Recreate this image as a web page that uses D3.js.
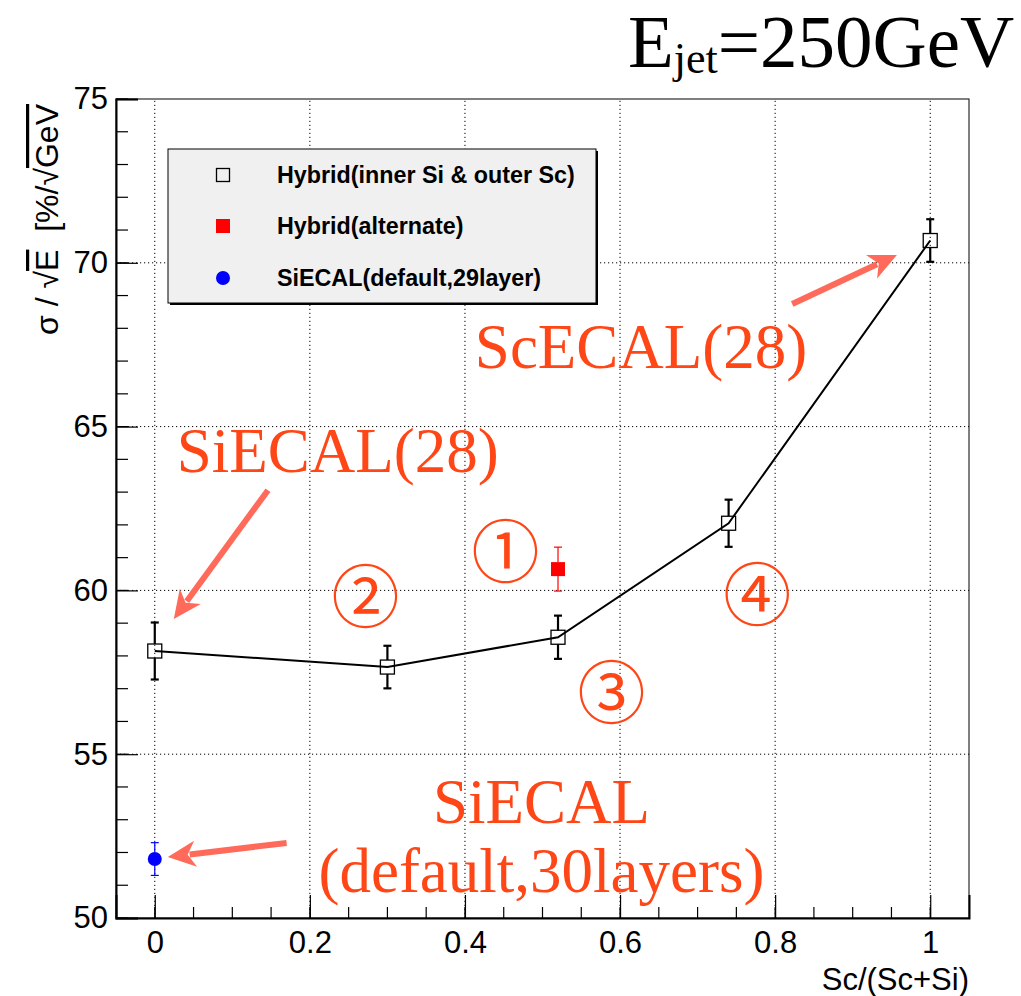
<!DOCTYPE html>
<html>
<head>
<meta charset="utf-8">
<script src="https://cdn.jsdelivr.net/npm/d3@7"></script>
<style>
  body { margin: 0; background: #fff; }
  svg { display: block; }
</style>
</head>
<body>
<script>
// data
var xTicks = [0, 0.2, 0.4, 0.6, 0.8, 1];
var yTicks = [50, 55, 60, 65, 70, 75];

var hybridX = [0, 0.3, 0.52, 0.74, 1];
var hybridY = [58.15, 57.66, 58.57, 62.05, 70.68];
var hybridErr = [0.87, 0.65, 0.66, 0.72, 0.65];

var altX = [0.52];
var altY = [60.65];
var altErr = [0.67];

var siX = [0];
var siY = [51.8];
var siErr = [0.5];

var legendLabels = ["Hybrid(inner Si & outer Sc)", "Hybrid(alternate)", "SiECAL(default,29layer)"];

// annotations (data coords)
var notes = [
  {t: "SiECAL(28)", x: 0.0284, y: 63.61, a: "start"},
  {t: "ScECAL(28)", x: 0.8415, y: 66.79, a: "end"},
  {t: "SiECAL", x: 0.4987, y: 52.90, a: "middle"},
  {t: "(default,30layers)", x: 0.4987, y: 50.79, a: "middle"}
];
var circled = [
  {t: "\u2460", x: 0.4523, y: 61.32},
  {t: "\u2461", x: 0.2719, y: 59.95},
  {t: "\u2462", x: 0.5889, y: 57.02},
  {t: "\u2463", x: 0.7771, y: 60.01}
];
var arrows = [
  {x1: 0.146, y1: 63.06, x2: 0.0245, y2: 59.13},
  {x1: 0.822, y1: 68.74, x2: 0.957, y2: 70.24},
  {x1: 0.170, y1: 52.29, x2: 0.0168, y2: 51.86}
];

var W = 1021, H = 996;
var margin = {left: 116, top: 99, right: 52, bottom: 78};
var iw = W - margin.left - margin.right;
var ih = H - margin.top - margin.bottom;

var svg = d3.select("body").append("svg")
  .attr("width", W).attr("height", H);

var x = d3.scaleLinear().domain([-0.05, 1.05]).range([margin.left, margin.left + iw]);
var y = d3.scaleLinear().domain([50, 75]).range([margin.top + ih, margin.top]);

var sans = "'Liberation Sans', Arial, Helvetica, sans-serif";
var serif = "'Liberation Serif', 'Times New Roman', serif";
var orange = "#ff4616";
var arrowCol = "#ff6a5a";

// grid
var grid = svg.append("g").attr("stroke", "#000").attr("stroke-width", 1)
  .attr("stroke-dasharray", "1.2,2.8");
grid.selectAll(".gx").data(xTicks).enter().append("line")
  .attr("x1", function(d){ return x(d); }).attr("x2", function(d){ return x(d); })
  .attr("y1", y(50)).attr("y2", y(75));
grid.selectAll(".gy").data(yTicks.slice(1, -1)).enter().append("line")
  .attr("x1", x(-0.05)).attr("x2", x(1.05))
  .attr("y1", function(d){ return y(d); }).attr("y2", function(d){ return y(d); });

// frame
svg.append("rect")
  .attr("x", margin.left).attr("y", margin.top)
  .attr("width", iw).attr("height", ih)
  .attr("fill", "none").attr("stroke", "#000").attr("stroke-width", 1);

// axes
var xMinor = d3.range(0, 21).map(function(i){ return i * 0.05; });
var yMinor = d3.range(50, 76);

var xAxis = d3.axisBottom(x).tickValues(xTicks).tickSize(-23).tickPadding(33)
  .tickFormat(function(d){ return d3.format("~g")(d); });
var gx = svg.append("g").attr("transform", "translate(0," + y(50) + ")").call(xAxis);
gx.append("g").selectAll("line").data(xMinor).enter().append("line")
  .attr("x1", function(d){ return x(d); }).attr("x2", function(d){ return x(d); })
  .attr("y1", 0).attr("y2", -11).attr("stroke", "#000").attr("stroke-width", 1.2);

var yAxis = d3.axisLeft(y).tickValues(yTicks).tickSize(-22).tickPadding(8);
var gy = svg.append("g").attr("transform", "translate(" + x(-0.05) + ",0)").call(yAxis);
gy.append("g").selectAll("line").data(yMinor).enter().append("line")
  .attr("x1", 0).attr("x2", 12)
  .attr("y1", function(d){ return y(d); }).attr("y2", function(d){ return y(d); })
  .attr("stroke", "#000").attr("stroke-width", 1.2);

[gx, gy].forEach(function(g){
  g.select(".domain").attr("stroke", "#000").attr("stroke-width", 2);
  g.selectAll(".tick line").attr("stroke", "#000").attr("stroke-width", 1.2);
  g.selectAll(".tick text").attr("fill", "#000")
    .style("font-family", sans).style("font-size", "31px");
});
gx.selectAll(".tick text").attr("dy", "0.05em");

// axis titles
svg.append("text")
  .attr("x", x(1.05)).attr("y", 990)
  .attr("text-anchor", "end")
  .style("font-family", sans).style("font-size", "31px")
  .text("Sc/(Sc+Si)");

var yl = svg.append("text")
  .attr("transform", "translate(58,104) rotate(-90)")
  .attr("text-anchor", "end")
  .style("white-space", "pre")
  .style("font-family", sans).style("font-size", "32px");
yl.append("tspan").text("\u03c3 / \u221a");
yl.append("tspan").style("text-decoration", "overline").text("E");
yl.append("tspan").text("  [%/\u221a");
yl.append("tspan").style("text-decoration", "overline").text("GeV");

// title
var tt = svg.append("text").attr("x", 628).attr("y", 67)
  .style("font-family", serif).style("font-size", "75px");
tt.append("tspan").text("E");
tt.append("tspan").attr("dy", 6).style("font-size", "44px").text("jet");
tt.append("tspan").attr("dy", -6).text("=250GeV");

// legend
var lg = svg.append("g").attr("transform", "translate(168,149)");
lg.append("rect").attr("x", 2).attr("y", 2).attr("width", 428).attr("height", 154).attr("fill", "#000");
lg.append("rect").attr("width", 428).attr("height", 154)
  .attr("fill", "#f0f0f0").attr("stroke", "#000").attr("stroke-width", 1);
var rowY = [26, 77, 129];
lg.selectAll(".lt").data(legendLabels).enter().append("text")
  .attr("x", 109).attr("y", function(d, i){ return rowY[i]; })
  .attr("dy", "0.36em")
  .style("font-family", sans).style("font-weight", "bold").style("font-size", "23.3px")
  .text(function(d){ return d; });
lg.append("rect").attr("x", 55 - 6.5).attr("y", rowY[0] - 6.5).attr("width", 13).attr("height", 13)
  .attr("fill", "none").attr("stroke", "#000").attr("stroke-width", 1.3);
lg.append("rect").attr("x", 55 - 7).attr("y", rowY[1] - 7).attr("width", 14).attr("height", 14)
  .attr("fill", "#ff0000");
lg.append("circle").attr("cx", 55).attr("cy", rowY[2]).attr("r", 7).attr("fill", "#0000ff");

// error bars helper
function errBars(g, xs, ys, es, color, width, gap, cap) {
  xs.forEach(function(xv, i){
    var cx = x(xv), yt = y(ys[i] + es[i]), yb = y(ys[i] - es[i]), cy = y(ys[i]);
    g.append("line").attr("x1", cx).attr("x2", cx).attr("y1", yt).attr("y2", cy - gap)
      .attr("stroke", color).attr("stroke-width", width);
    g.append("line").attr("x1", cx).attr("x2", cx).attr("y1", cy + gap).attr("y2", yb)
      .attr("stroke", color).attr("stroke-width", width);
    [yt, yb].forEach(function(yy){
      g.append("line").attr("x1", cx - cap).attr("x2", cx + cap).attr("y1", yy).attr("y2", yy)
        .attr("stroke", color).attr("stroke-width", width);
    });
  });
}

var marks = svg.append("g");

// hybrid line
var line = d3.line().x(function(d){ return x(d[0]); }).y(function(d){ return y(d[1]); });
marks.append("path")
  .datum(hybridX.map(function(d, i){ return [d, hybridY[i]]; }))
  .attr("d", line).attr("fill", "none").attr("stroke", "#000").attr("stroke-width", 2);

errBars(marks, hybridX, hybridY, hybridErr, "#000", 2.2, 7, 4);
marks.selectAll(".hs").data(hybridX).enter().append("rect")
  .attr("x", function(d){ return x(d) - 7; })
  .attr("y", function(d, i){ return y(hybridY[i]) - 7; })
  .attr("width", 14).attr("height", 14)
  .attr("fill", "none").attr("stroke", "#000").attr("stroke-width", 1.3);

errBars(marks, altX, altY, altErr, "#ff0000", 1.2, 7, 4);
marks.selectAll(".as").data(altX).enter().append("rect")
  .attr("x", function(d){ return x(d) - 7; })
  .attr("y", function(d, i){ return y(altY[i]) - 7; })
  .attr("width", 14).attr("height", 14).attr("fill", "#ff0000");

errBars(marks, siX, siY, siErr, "#0000ff", 1.2, 7, 4);
marks.selectAll(".sc").data(siX).enter().append("circle")
  .attr("cx", function(d){ return x(d); })
  .attr("cy", function(d, i){ return y(siY[i]); })
  .attr("r", 7).attr("fill", "#0000ff");

// annotations
var ann = svg.append("g");
ann.selectAll(".nt").data(notes).enter().append("text")
  .attr("x", function(d){ return x(d.x); }).attr("y", function(d){ return y(d.y); })
  .attr("text-anchor", function(d){ return d.a; })
  .attr("fill", orange)
  .style("font-family", serif).style("font-size", "63px")
  .text(function(d){ return d.t; });

ann.selectAll(".ct").data(circled).enter().append("text")
  .attr("x", function(d){ return x(d.x); }).attr("y", function(d){ return y(d.y); })
  .attr("text-anchor", "middle").attr("dominant-baseline", "central")
  .attr("fill", orange)
  .style("font-family", "'Noto Sans CJK JP', 'DejaVu Sans', sans-serif").style("font-size", "68px")
  .text(function(d){ return d.t; });

arrows.forEach(function(a){
  var x1 = x(a.x1), y1 = y(a.y1), x2 = x(a.x2), y2 = y(a.y2);
  var ang = Math.atan2(y2 - y1, x2 - x1);
  var hl = 28, hw = 13;
  var bx = x2 - hl * Math.cos(ang), by = y2 - hl * Math.sin(ang);
  ann.append("line").attr("x1", x1).attr("y1", y1)
    .attr("x2", x2 - (hl - 6) * Math.cos(ang)).attr("y2", y2 - (hl - 6) * Math.sin(ang))
    .attr("stroke", arrowCol).attr("stroke-width", 6);
  var px = -Math.sin(ang), py = Math.cos(ang);
  var bx2 = x2 - (hl - 8) * Math.cos(ang), by2 = y2 - (hl - 8) * Math.sin(ang);
  ann.append("path")
    .attr("d", "M" + x2 + "," + y2 +
      "L" + (bx + px * hw) + "," + (by + py * hw) +
      "L" + bx2 + "," + by2 +
      "L" + (bx - px * hw) + "," + (by - py * hw) + "Z")
    .attr("fill", arrowCol);
});
</script>
</body>
</html>
